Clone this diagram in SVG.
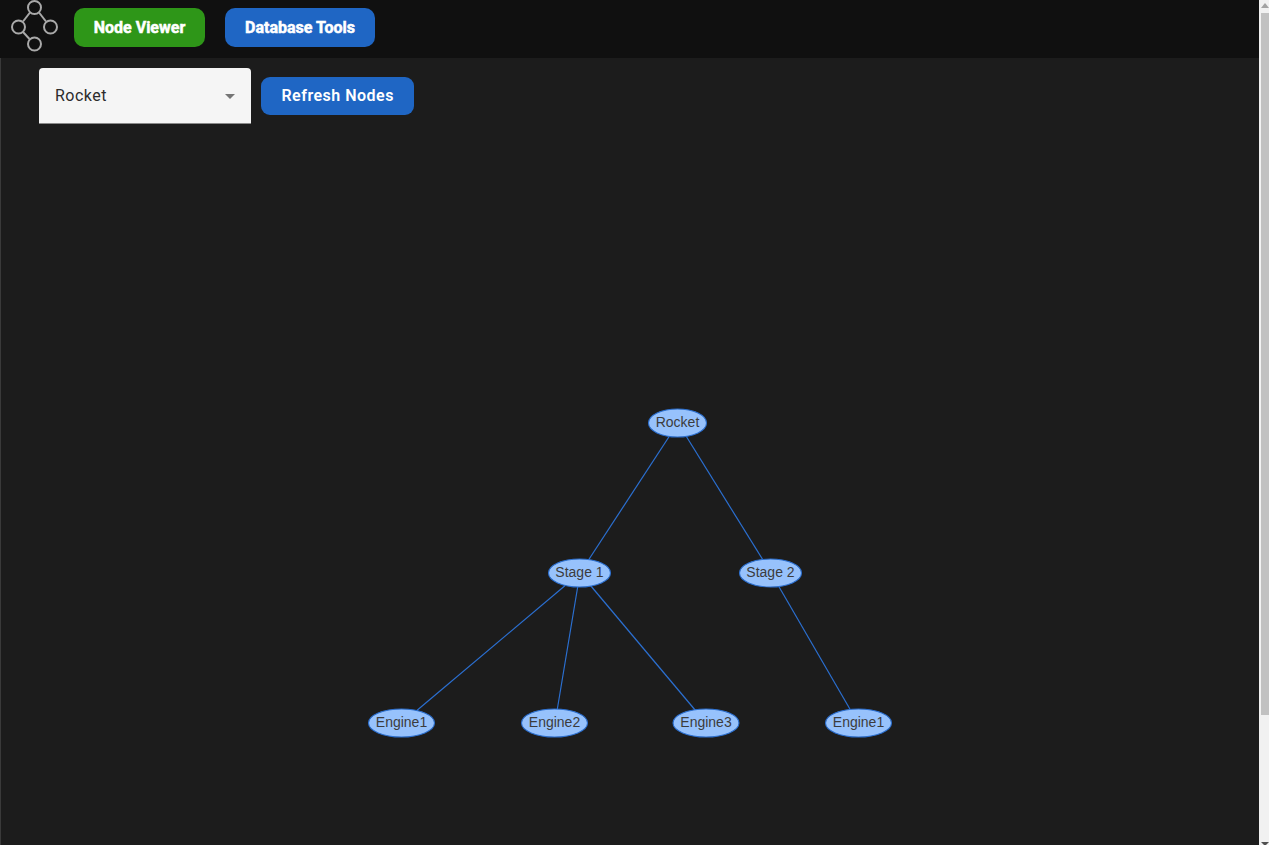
<svg xmlns="http://www.w3.org/2000/svg" width="1269" height="845" viewBox="0 0 1269 845">
<style>
.btn{font-family:Roboto,"Liberation Sans",sans-serif;font-weight:700;fill:#fff;text-anchor:middle}
.nb{font-size:16px;stroke:#fff;stroke-width:.5px}
.node ellipse{fill:#97c2fc;stroke:#2b6fd0;stroke-width:1.1}
.node text{font-family:"Liberation Sans",Arial,sans-serif;font-size:14px;fill:#3c3c3c;text-anchor:middle}
#connectors line{stroke:#2b6fd0;stroke-width:1.2}
#logo circle{fill:none;stroke:#a9a9a9;stroke-width:2}
#logo line{stroke:#a9a9a9;stroke-width:2}
</style>
<rect width="1269" height="845" fill="#1c1c1c"/>
<rect x="0" y="0" width="1" height="845" fill="#3a3a3a"/>
<rect width="1259" height="58" fill="#101010"/>
<g id="logo">
<circle cx="34.500" cy="7.500" r="6.500"/>
<circle cx="18.500" cy="27" r="6.500"/>
<circle cx="50.500" cy="27" r="6.500"/>
<circle cx="34.500" cy="44" r="6.500"/>
<line x1="30" y1="12.500" x2="23" y2="21.500"/>
<line x1="39" y1="12.500" x2="46" y2="21.500"/>
<line x1="23" y1="32" x2="29.500" y2="39"/>
</g>
<g id="node-viewer"><rect x="74" y="8" width="131" height="39" rx="10" fill="#2e9618"/><text class="btn nb" x="139.500" y="33">Node Viewer</text></g>
<g id="database-tools"><rect x="225" y="8" width="150" height="39" rx="10" fill="#1f66c4"/><text class="btn nb" x="300" y="33">Database Tools</text></g>
<g id="select">
<path d="M39 124V72a4 4 0 0 1 4-4H247a4 4 0 0 1 4 4V124Z" fill="#f5f5f5"/>
<rect x="39" y="123" width="212" height="1" fill="#8a8a8a"/>
<text x="55" y="101" font-family="Roboto,'Liberation Sans',sans-serif" font-size="16" letter-spacing=".5" fill="#2c2c2c">Rocket</text>
<path d="M225 94H235L230 99Z" fill="#757575"/>
</g>
<g id="refresh"><rect x="261" y="77" width="153" height="38" rx="9" fill="#1f66c4"/><text class="btn" x="337.700" y="101" font-size="16" letter-spacing=".5" style="font-weight:600">Refresh Nodes</text></g>
<g id="connectors">
<line x1="678" y1="423" x2="580" y2="573"/>
<line x1="678" y1="423" x2="771" y2="573"/>
<line x1="580" y1="573" x2="402" y2="723"/>
<line x1="580" y1="573" x2="555" y2="723"/>
<line x1="580" y1="573" x2="706" y2="723"/>
<line x1="771" y1="573" x2="858" y2="723"/>
</g>
<g id="n-rocket" class="node"><ellipse cx="677.500" cy="423" rx="29" ry="14"/><text x="677.500" y="427">Rocket</text></g>
<g id="n-stage1" class="node"><ellipse cx="579.500" cy="573" rx="31" ry="14"/><text x="579.500" y="577">Stage 1</text></g>
<g id="n-stage2" class="node"><ellipse cx="770.500" cy="573" rx="31" ry="14"/><text x="770.500" y="577">Stage 2</text></g>
<g id="n-engine1a" class="node"><ellipse cx="401.500" cy="723" rx="33" ry="14"/><text x="401.500" y="727">Engine1</text></g>
<g id="n-engine2" class="node"><ellipse cx="554.500" cy="723" rx="33" ry="14"/><text x="554.500" y="727">Engine2</text></g>
<g id="n-engine3" class="node"><ellipse cx="706" cy="723" rx="33" ry="14"/><text x="706" y="727">Engine3</text></g>
<g id="n-engine1b" class="node"><ellipse cx="858.500" cy="723" rx="33" ry="14"/><text x="858.500" y="727">Engine1</text></g>
<g id="scrollbar">
<rect x="1259" y="0" width="10" height="845" fill="#f1f1f1"/>
<rect x="1261" y="13" width="8" height="702" fill="#c1c1c1"/>
<path d="M1261 8L1265 3L1269 8Z" fill="#a3a3a3"/>
<path d="M1261 842L1265 846L1269 842Z" fill="#505050"/>
</g>
</svg>
